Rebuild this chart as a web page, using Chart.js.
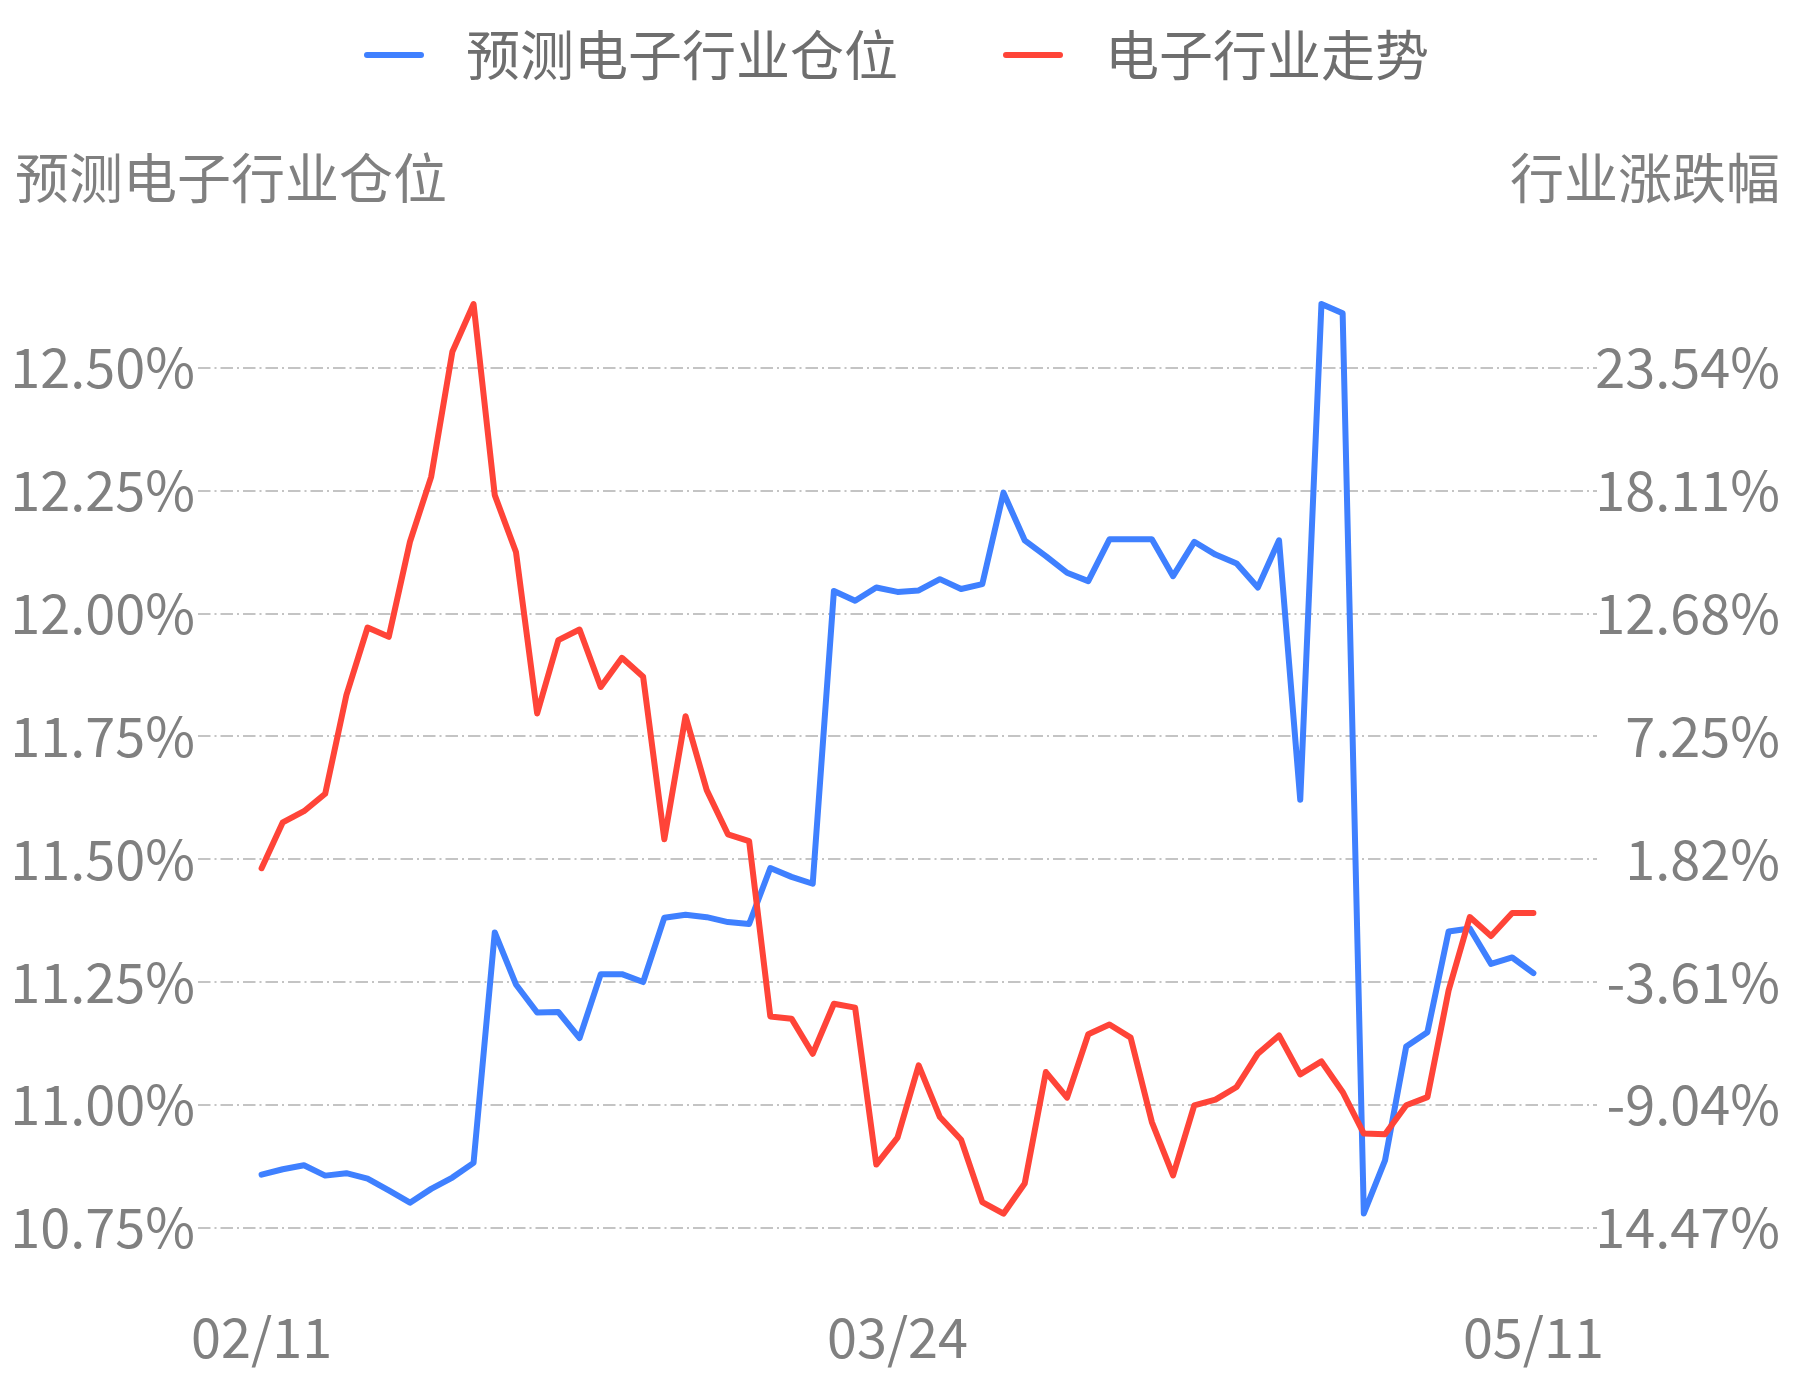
<!DOCTYPE html>
<html>
<head>
<meta charset="utf-8">
<title>预测电子行业仓位</title>
<script src="https://cdn.jsdelivr.net/npm/chart.js@4.4.1/dist/chart.umd.min.js"></script>
<style>
  html, body { margin: 0; padding: 0; background: #fff; }
  #wrap { width: 1793px; height: 1380px; }
</style>
</head>
<body>
<div id="wrap"><canvas id="grafica" width="1793" height="1380"></canvas></div>
<script>
// x axis: 61 trading days, only three dates are labelled
const dateLabels = ['02/11', '03/24', '05/11'];
const datePos = [0, 30, 60];

const leftTicks = [10.75, 11.00, 11.25, 11.50, 11.75, 12.00, 12.25, 12.50];
const rightTicks = [-14.47, -9.04, -3.61, 1.82, 7.25, 12.68, 18.11, 23.54];

const leftTitle = '预测电子行业仓位';
const rightTitle = '行业涨跌幅';
const seriesNames = ['预测电子行业仓位', '电子行业走势'];

// 预测电子行业仓位 (%), left axis
const position = [
  10.858, 10.869, 10.877, 10.856, 10.861, 10.850, 10.826, 10.801, 10.829, 10.852,
  10.882, 11.351, 11.245, 11.188, 11.189, 11.136, 11.266, 11.266, 11.250, 11.381,
  11.387, 11.382, 11.372, 11.368, 11.482, 11.464, 11.450, 12.046, 12.026, 12.053,
  12.044, 12.047, 12.070, 12.050, 12.060, 12.246, 12.149, 12.117, 12.083, 12.066,
  12.151, 12.151, 12.151, 12.076, 12.146, 12.120, 12.102, 12.053, 12.149, 11.621,
  12.630, 12.611, 10.779, 10.887, 11.119, 11.148, 11.353, 11.359, 11.287, 11.300,
  11.268
];

// 电子行业走势 (%), right axis
const trend = [
  1.42, 3.45, 3.94, 4.71, 9.07, 12.06, 11.65, 15.85, 18.72, 24.25,
  26.36, 17.91, 15.40, 8.26, 11.50, 11.97, 9.43, 10.72, 9.88, 2.70,
  8.14, 4.87, 2.92, 2.62, -5.13, -5.23, -6.78, -4.57, -4.74, -11.68,
  -10.49, -7.29, -9.58, -10.58, -13.34, -13.85, -12.52, -7.59, -8.72, -5.92,
  -5.49, -6.07, -9.80, -12.16, -9.06, -8.81, -8.25, -6.78, -5.97, -7.69,
  -7.12, -8.47, -10.31, -10.34, -9.06, -8.70, -3.98, -0.74, -1.58, -0.56,
  -0.56
];

const FONT = "'Noto Sans CJK SC', 'Noto Sans', sans-serif";
const GRAY = '#808080';
const BLUE = '#3F80FF';
const RED = '#FF4438';

const toPoints = arr => arr.map((v, i) => ({ x: i, y: v }));
const pct = v => v.toFixed(2) + '%';

// legend on top + the two axis titles
const extras = {
  id: 'extras',
  beforeDraw(chart) {
    const c = chart.ctx;
    c.save();
    c.fillStyle = '#fff';
    c.fillRect(0, 0, chart.width, chart.height);
    c.restore();
  },
  afterDraw(chart) {
    const c = chart.ctx;
    c.save();
    c.font = '54px ' + FONT;
    c.textBaseline = 'middle';

    const colors = [BLUE, RED];
    const lineW = 60, gapText = 42, gapItem = 105;
    const widths = seriesNames.map(t => c.measureText(t).width);
    let total = 0;
    widths.forEach((w, i) => { total += lineW + gapText + w + (i ? 0 : gapItem); });
    let x = (chart.width - total) / 2;
    const ly = 55;
    seriesNames.forEach((t, i) => {
      c.strokeStyle = colors[i];
      c.lineWidth = 6;
      c.lineCap = 'round';
      c.beginPath();
      c.moveTo(x + 3, ly);
      c.lineTo(x + lineW - 3, ly);
      c.stroke();
      c.fillStyle = '#6e6e6e';
      c.textAlign = 'left';
      c.fillText(t, x + lineW + gapText, ly);
      x += lineW + gapText + widths[i] + gapItem;
    });

    c.fillStyle = GRAY;
    c.textAlign = 'left';
    c.fillText(leftTitle, 15, 178);
    c.textAlign = 'right';
    c.fillText(rightTitle, 1780, 178);
    c.restore();
  }
};

const lineStyle = {
  borderWidth: 6,
  pointRadius: 0,
  tension: 0,
  fill: false,
  clip: false,
  borderCapStyle: 'round',
  borderJoinStyle: 'round'
};

const ctx = document.getElementById('grafica').getContext('2d');
new Chart(ctx, {
  type: 'line',
  data: {
    datasets: [
      { ...lineStyle, label: seriesNames[0], data: toPoints(position), yAxisID: 'yL', borderColor: BLUE, backgroundColor: BLUE, order: 1 },
      { ...lineStyle, label: seriesNames[1], data: toPoints(trend), yAxisID: 'yR', borderColor: RED, backgroundColor: RED, order: 0 }
    ]
  },
  options: {
    responsive: false,
    animation: false,
    events: [],
    layout: { padding: { top: 304, right: 13, left: 0, bottom: 0 } },
    plugins: {
      legend: { display: false },
      tooltip: { enabled: false }
    },
    scales: {
      x: {
        type: 'linear',
        min: -3,
        max: 63,
        grid: { display: false },
        border: { display: false },
        afterBuildTicks: s => { s.ticks = datePos.map(v => ({ value: v })); },
        afterFit: s => { s.height = 152.3; },
        ticks: {
          autoSkip: false,
          maxRotation: 0,
          padding: 69,
          color: GRAY,
          font: { family: FONT, size: 54 },
          callback: v => dateLabels[datePos.indexOf(v)]
        }
      },
      yL: {
        position: 'left',
        min: 10.75,
        max: 12.63,
        afterBuildTicks: s => { s.ticks = leftTicks.map(v => ({ value: v })); },
        afterFit: s => { s.width = 198; },
        grid: { color: '#c4c4c4', lineWidth: 2, drawTicks: false },
        border: { display: false, dash: [12.5, 4, 2, 4] },
        ticks: { padding: 3, color: GRAY, font: { family: FONT, size: 54 }, callback: pct }
      },
      yR: {
        position: 'right',
        z: 1,
        min: -14.47,
        max: 26.36,
        afterBuildTicks: s => { s.ticks = rightTicks.map(v => ({ value: v })); },
        afterFit: s => { s.width = 183; },
        grid: { display: false },
        border: { display: false },
        ticks: { crossAlign: 'far', color: GRAY, font: { family: FONT, size: 54 }, callback: pct }
      }
    }
  },
  plugins: [extras]
});
</script>
</body>
</html>
